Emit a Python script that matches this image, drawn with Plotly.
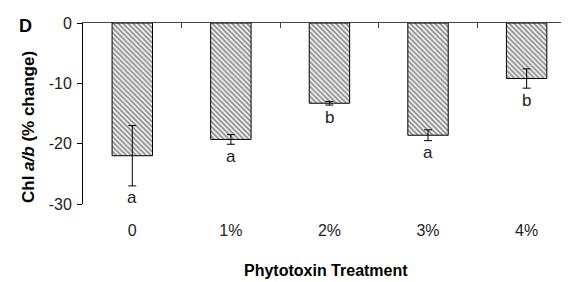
import plotly.graph_objects as go

categories = ["0", "1%", "2%", "3%", "4%"]
values = [-22.0, -19.3, -13.3, -18.6, -9.2]
errors = [5.0, 0.8, 0.3, 0.9, 1.6]
letters = ["a", "a", "b", "a", "b"]
y_ticks = [0, -10, -20, -30]
y_ticktext = ["0", "-10", "-20", "-30"]

FONT = "Liberation Sans, Arial, sans-serif"
xpos = list(range(len(categories)))

# page body adds an 8px offset; figure sized to fit the 569x282 window
W, H = 561, 274
L, T, B = 75, 15, 78
PW, PH = W - L, H - T - B  # 486 x 181

fig = go.Figure()
fig.add_trace(go.Bar(
    x=xpos, y=values, width=0.41,
    marker=dict(color="white", line=dict(color="black", width=1),
                pattern=dict(shape="\\", fgcolor="#111111", bgcolor="white",
                             size=3.5, solidity=0.55)),
    error_y=dict(type="data", array=errors, visible=True, color="black",
                 thickness=1, width=4),
    showlegend=False,
))

for xi, v, e, l in zip(xpos, values, errors, letters):
    fig.add_annotation(x=xi, y=v - e, text=l, showarrow=False,
                       xref="x", yref="y", yanchor="middle", yshift=-12,
                       font=dict(family=FONT, size=17, color="#222"))

fig.add_annotation(x=-58 / PW, y=1 - 3 / PH, xref="paper", yref="paper",
                   text="<b>D</b>", showarrow=False, xanchor="center", yanchor="middle",
                   font=dict(family=FONT, size=18, color="black"))

fig.add_annotation(x=0.5, y=-(B - 1) / PH, xref="paper", yref="paper",
                   text="<b>Phytotoxin Treatment</b>", showarrow=False,
                   xanchor="center", yanchor="bottom",
                   font=dict(family=FONT, size=16, color="black"))

fig.add_annotation(x=-55 / PW, y=1 - 104 / PH, xref="paper", yref="paper",
                   text="<b>Chl <i>a/b</i> (% change)</b>", showarrow=False,
                   textangle=-90, xanchor="center", yanchor="middle",
                   font=dict(family=FONT, size=17, color="black"))

fig.update_layout(
    width=W, height=H,
    margin=dict(l=L, r=0, t=T, b=B),
    paper_bgcolor="white", plot_bgcolor="white",
    font=dict(family=FONT, size=16, color="#222"),
    xaxis=dict(range=[-0.5, 4.43], tickvals=xpos, ticktext=categories,
               showline=False, ticks="", showgrid=False, zeroline=False,
               ticklabelstandoff=15, automargin=False,
               tickfont=dict(family=FONT, size=16, color="#222")),
    xaxis2=dict(range=[-0.5, 4.43], overlaying="x", side="top", anchor="y",
                tickvals=[0.5, 1.5, 2.5, 3.5], ticktext=["", "", "", ""],
                ticks="inside", ticklen=5, tickcolor="#444", showline=True,
                linecolor="#444", linewidth=1, showgrid=False, zeroline=False,
                automargin=False),
    yaxis=dict(range=[-30, 0], tickvals=y_ticks, ticktext=y_ticktext,
               ticks="outside", ticklen=5, ticklabelstandoff=2,
               tickcolor="black", showline=True, linecolor="black", linewidth=1,
               showgrid=False, zeroline=False, automargin=False,
               tickfont=dict(family=FONT, size=16, color="#222")),
)
fig.add_trace(go.Scatter(x=[None], y=[None], xaxis="x2", yaxis="y", showlegend=False))

fig.write_html("out.html")
